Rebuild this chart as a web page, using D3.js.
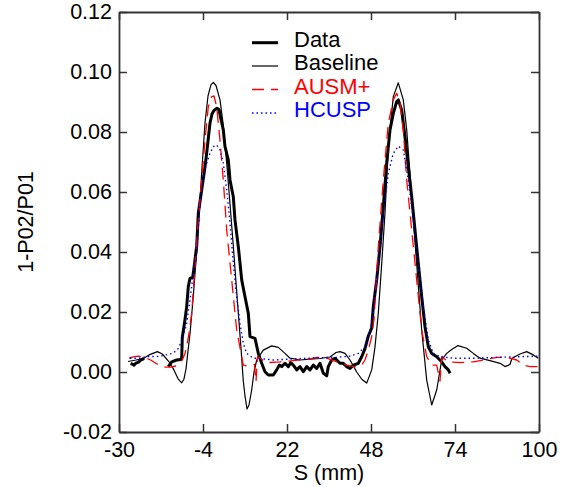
<!DOCTYPE html>
<html>
<head>
<meta charset="utf-8">
<script src="https://cdn.jsdelivr.net/npm/d3@7"></script>
<style>
  html, body { margin: 0; padding: 0; background: #fff; }
  svg { display: block; }
  text { font-family: "Liberation Sans", Arial, Helvetica, sans-serif; }
</style>
</head>
<body>
<svg id="chart" width="565" height="487"></svg>
<script>
// ---- data (S in mm, value = 1-P02/P01) ----
const xTicks = [-30, -4, 22, 48, 74, 100];
const yTicks = [-0.02, 0.00, 0.02, 0.04, 0.06, 0.08, 0.10, 0.12];
const seriesNames = ["Data", "Baseline", "AUSM+", "HCUSP"];

// Data (null = gap in measurements)
const dataS = [-26.38, -25.88, -25.36, -24.83, -24.34, -23.81, -23.28, -22.79, -22.26, -18.5,
  -14.74, -13.69, -12.14, -10.9, -10.59, -10.41, -9.57, -9.05, -8.55, -8.02, -7.19, -6.69, -5.95, -5.45,
  -4.4, -3.69, -3.07, -2.45, -1.83, -1.21, -0.6, 0.33, 0.95, 1.42, 2.28, 2.81, 3.83, 4.36, 5.38, 5.9,
  6.93, 7.98, 9.0, 10.02, 10.55, 12.1, 13.12, 14.17, 15.19, 16.21, 17.76, 18.81, 19.62, 20.36, 21.38,
  22.4, 23.15, 23.95, 25.0, 26.02, 27.05, 28.1, 29.12, 30.14, 31.19, 32.21, 33.24, 34.29, 34.78, 35.83,
  36.86, 38.4, 39.43, 40.48, 41.5, 42.52, 44.07, 45.12, 46.14, 47.17, 48.21, 48.71, 49.76, 50.79, 51.81,
  52.86, 53.88, 54.9, 55.95, 56.45, 57.5, 58.52, 59.55, 60.6, 61.62, 62.64, 63.69, 64.71, 65.74, 66.79,
  68.33, 69.88, 70.9, 71.93, 72.45];
const dataV = [0.0029, 0.0026, 0.0023, 0.0029, 0.0031, 0.0034, 0.0040, 0.0042, 0.0046, null,
  0.0018, 0.0034, 0.0040, 0.0042, 0.0048, 0.0115, 0.0175, 0.0218, 0.0285, 0.0312, 0.0315, 0.0355, 0.0420, 0.0529,
  0.0607, 0.0660, 0.0710, 0.0770, 0.0830, 0.0860, 0.0872, 0.0879, 0.0875, 0.0850, 0.0807, 0.0751, 0.0707, 0.0640, 0.0584, 0.0507,
  0.0418, 0.0307, 0.0251, 0.0196, 0.0118, 0.0112, 0.0062, 0.0029, 0.0001, -0.0010, -0.0010, 0.0007, 0.0023, 0.0018, 0.0029,
  0.0018, 0.0031, 0.0023, 0.0007, 0.0018, 0.0001, 0.0018, 0.0007, 0.0023, 0.0012, 0.0029, -0.0004, -0.0013, 0.0018, 0.0040,
  0.0046, 0.0029, 0.0029, 0.0018, 0.0012, 0.0023, 0.0029, 0.0051, 0.0078, 0.0120, 0.0146, 0.0218, 0.0307, 0.0418, 0.0551,
  0.0696, 0.0807, 0.0862, 0.0901, 0.0907, 0.0873, 0.0784, 0.0684, 0.0584, 0.0473, 0.0362, 0.0251, 0.0151, 0.0084, 0.0062,
  0.0051, 0.0034, 0.0018, 0.0007, -0.0004];

// Baseline
const baseS = [-27.2, -24.7, -22.3, -20.7, -18.1, -16.6, -14.5, -13.0, -11.65, -10.6, -9.9, -9.26, -8.64, -8.0,
  -7.1, -6.17, -5.24, -4.31, -3.38, -2.45, -1.52, -0.8, 0.02, 1.26, 2.19, 3.34, 4.36, 5.38, 6.21, 6.93, 7.76,
  8.47, 9.0, 9.62, 10.24, 11.07, 11.79, 12.62, 14.66, 17.26, 19.31, 21.38, 22.93, 26.02, 29.12, 32.21, 35.31,
  37.17, 38.4, 39.95, 41.5, 43.57, 45.21, 46.67, 48.22, 49.24, 50.26, 51.31, 52.33, 53.35, 54.9, 56.45, 58.0,
  59.05, 60.6, 62.14, 63.69, 65.24, 66.79, 68.34, 69.88, 71.43, 72.98, 74.93, 77.62, 79.66, 81.74, 84.83,
  87.93, 89.48, 91.02, 91.64, 94.12, 96.19, 98.24, 99.78];
const baseV = [0.0035, 0.0040, 0.0046, 0.0057, 0.0068, 0.0060, 0.0034, 0.0007, -0.0024, -0.0036, -0.0024, 0.0010, 0.0070, 0.0130,
  0.0240, 0.0370, 0.0520, 0.0680, 0.0830, 0.0920, 0.0958, 0.0965, 0.0955, 0.0907, 0.0830, 0.0696, 0.0560, 0.0420, 0.0300, 0.0196, 0.0080,
  -0.0030, -0.0080, -0.0123, -0.0110, -0.0060, 0.0000, 0.0040, 0.0073, 0.0087, 0.0082, 0.0062, 0.0046, 0.0040, 0.0043, 0.0045, 0.0050,
  0.0065, 0.0068, 0.0062, 0.0040, 0.0000, -0.0025, -0.0037, 0.0007, 0.0084, 0.0196, 0.0360, 0.0530, 0.0750, 0.0918, 0.0964, 0.0907,
  0.0807, 0.0584, 0.0360, 0.0140, -0.0027, -0.0110, -0.0060, 0.0040, 0.0062, 0.0075, 0.0088, 0.0079, 0.0062, 0.0046, 0.0038,
  0.0029, 0.0018, 0.0025, 0.0046, 0.0060, 0.0068, 0.0057, 0.0046];

// AUSM+
const ausmS = [-26.9, -25.36, -23.81, -22.26, -20.19, -18.64, -17.09, -15.55, -14.0, -12.45, -11.43, -10.41, -9.57, -8.86,
  -8.33, -7.5, -6.48, -5.45, -4.4, -3.38, -2.36, -1.31, -0.6, 0.24, 1.26, 2.28, 3.34, 4.88, 6.43, 7.98, 8.47, 9.52,
  11.07, 11.94, 12.4, 12.87, 15.72, 19.83, 23.95, 28.1, 31.19, 34.29, 37.38, 40.48, 43.05, 45.12, 46.14, 47.17,
  48.21, 48.93, 50.26, 51.81, 53.35, 54.9, 55.95, 56.98, 58.0, 59.05, 60.6, 62.14, 63.69, 65.24, 66.79, 68.33,
  69.36, 69.88, 71.93, 75.55, 79.67, 83.81, 86.9, 90.0, 93.1, 95.14, 97.21, 100];
const ausmV = [0.0046, 0.0051, 0.0053, 0.0049, 0.0040, 0.0029, 0.0020, 0.0016, 0.0016, 0.0020, 0.0027, 0.0040, 0.0062, 0.0096,
  0.0129, 0.0196, 0.0351, 0.0507, 0.0640, 0.0773, 0.0884, 0.0918, 0.0920, 0.0884, 0.0773, 0.0640, 0.0473, 0.0307, 0.0140, 0.0051, 0.0023, 0.0020,
  0.0023, 0.0025, -0.0032, 0.0051, 0.0031, 0.0034, 0.0038, 0.0042, 0.0049, 0.0046, 0.0034, 0.0023, 0.0018, 0.0023, 0.0040, 0.0073,
  0.0118, 0.0175, 0.0418, 0.0640, 0.0829, 0.0907, 0.0929, 0.0896, 0.0807, 0.0640, 0.0473, 0.0307, 0.0140, 0.0051, 0.0023, 0.0023,
  -0.0030, 0.0051, 0.0034, 0.0031, 0.0034, 0.0042, 0.0049, 0.0049, 0.0040, 0.0023, 0.0018, 0.0018];

// HCUSP
const hcuspS = [-26.6, -23.81, -21.43, -17.62, -15.55, -13.5, -11.95, -10.9, -10.19, -9.05, -8.02, -7.0, -5.95, -4.93,
  -3.91, -2.86, -1.83, -0.81, 0.24, 1.26, 2.28, 3.34, 4.36, 5.38, 6.43, 7.45, 8.47, 9.52, 11.57, 13.64, 17.76,
  22.93, 28.1, 33.24, 37.38, 41.5, 44.07, 46.14, 47.17, 48.21, 48.71, 50.26, 51.81, 53.35, 54.9, 56.45, 58.0,
  59.55, 61.09, 62.64, 64.19, 65.74, 67.28, 69.36, 73.48, 80.72, 87.93, 94.12, 100];
const hcuspV = [0.0046, 0.0046, 0.0051, 0.0052, 0.0057, 0.0062, 0.0073, 0.0096, 0.0118, 0.0162, 0.0240, 0.0329, 0.0396, 0.0562,
  0.0651, 0.0696, 0.0729, 0.0751, 0.0757, 0.0740, 0.0696, 0.0607, 0.0496, 0.0362, 0.0251, 0.0162, 0.0096, 0.0062, 0.0046, 0.0045, 0.0040,
  0.0043, 0.0046, 0.0048, 0.0049, 0.0053, 0.0062, 0.0084, 0.0118, 0.0162, 0.0196, 0.0362, 0.0529, 0.0662, 0.0729, 0.0753, 0.0740,
  0.0640, 0.0507, 0.0362, 0.0218, 0.0107, 0.0062, 0.0051, 0.0046, 0.0046, 0.0049, 0.0051, 0.0053];

// ---- layout ----
const m = { left: 119, right: 539, top: 12, bottom: 432 };
const FONT = 21.5;

const svg = d3.select("#chart");
const x = d3.scaleLinear().domain([-30, 100]).range([m.left, m.right]);
const y = d3.scaleLinear().domain([-0.02, 0.12]).range([m.bottom, m.top]);

const toPts = (s, v) => s.map((d, i) => [d, v[i]]);
const line = d3.line()
  .defined(d => d[1] !== null)
  .x(d => x(d[0])).y(d => y(d[1]));

const series = [
  { pts: toPts(dataS, dataV), stroke: "#000", width: 3, dash: null },
  { pts: toPts(baseS, baseV), stroke: "#000", width: 1.2, dash: null },
  { pts: toPts(ausmS, ausmV), stroke: "#ff0000", width: 1.3, dash: "12,7" },
  { pts: toPts(hcuspS, hcuspV), stroke: "#0000ff", width: 1.4, dash: "1.5,3" }
];

const plot = svg.append("g");
series.forEach(sr => {
  plot.append("path")
    .attr("d", line(sr.pts))
    .attr("fill", "none")
    .attr("stroke", sr.stroke)
    .attr("stroke-width", sr.width)
    .attr("stroke-linejoin", "round")
    .attr("stroke-dasharray", sr.dash);
});

// ---- axes (ticks inward on all four sides) ----
const hyphen = f => (d => f(d).replace("\u2212", "-"));
const AX = "#333";
function styleAxis(g) {
  g.selectAll(".domain").attr("stroke", AX).attr("stroke-width", 1.8);
  g.selectAll(".tick line").attr("stroke", AX).attr("stroke-width", 1.5);
  g.selectAll(".tick text").attr("fill", "#000").style("font-size", FONT + "px")
    .style("font-family", '"Liberation Sans", Arial, Helvetica, sans-serif');
}
svg.append("g").attr("transform", `translate(0,${m.bottom})`)
  .call(d3.axisBottom(x).tickValues(xTicks).tickFormat(hyphen(d3.format("d"))).tickSizeInner(-8).tickSizeOuter(0).tickPadding(10))
  .call(styleAxis);
svg.append("g").attr("transform", `translate(0,${m.top})`)
  .call(d3.axisTop(x).tickValues(xTicks).tickFormat("").tickSizeInner(-8).tickSizeOuter(0))
  .call(styleAxis);
svg.append("g").attr("transform", `translate(${m.left},0)`)
  .call(d3.axisLeft(y).tickValues(yTicks).tickFormat(hyphen(d3.format(".2f"))).tickSizeInner(-8).tickSizeOuter(0).tickPadding(7))
  .call(styleAxis);
svg.append("g").attr("transform", `translate(${m.right},0)`)
  .call(d3.axisRight(y).tickValues(yTicks).tickFormat("").tickSizeInner(-8).tickSizeOuter(0))
  .call(styleAxis);

// ---- axis titles ----
svg.append("text")
  .attr("x", (m.left + m.right) / 2).attr("y", 480)
  .attr("text-anchor", "middle").style("font-size", FONT + "px")
  .text("S (mm)");
svg.append("text")
  .attr("transform", `translate(33,${(m.top + m.bottom) / 2}) rotate(-90)`)
  .attr("text-anchor", "middle").style("font-size", FONT + "px")
  .text("1-P02/P01");

// ---- legend ----
const legendColors = ["#000", "#000", "#ff0000", "#0000ff"];
const legendRows = [46.7, 70, 93.5, 117];
seriesNames.forEach((name, i) => {
  const sr = series[i];
  const yy = legendRows[i];
  svg.append("line")
    .attr("x1", 252).attr("x2", 278).attr("y1", yy - 4).attr("y2", yy - 4)
    .attr("stroke", sr.stroke).attr("stroke-width", sr.width)
    .attr("stroke-dasharray", sr.dash);
  svg.append("text")
    .attr("x", 294).attr("y", yy)
    .attr("fill", legendColors[i])
    .style("font-size", "22px")
    .text(name);
});
</script>
</body>
</html>
